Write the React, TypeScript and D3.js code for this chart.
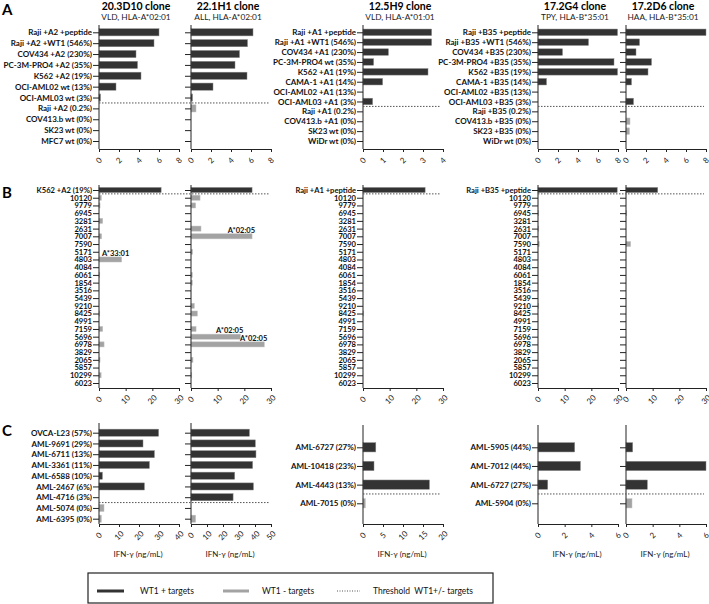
import * as d3 from "d3";
import React, { useEffect, useRef } from "react";

// ---- data ----
const clones = ["20.3D10 clone", "22.1H1 clone", "12.5H9 clone", "17.2G4 clone", "17.2D6 clone"];
const cloneInfo = ["VLD, HLA-A*02:01", "ALL, HLA-A*02:01", "VLD, HLA-A*01:01", "TPY, HLA-B*35:01", "HAA, HLA-B*35:01"];

const aTargetsA2 = ["Raji +A2 +peptide", "Raji +A2 +WT1 (546%)", "COV434 +A2 (230%)", "PC-3M-PRO4 +A2 (35%)", "K562 +A2 (19%)", "OCI-AML02 wt (13%)", "OCI-AML03 wt (3%)", "Raji +A2 (0.2%)", "COV413.b wt (0%)", "SK23 wt (0%)", "MFC7 wt (0%)"];
const aTargetsA1 = ["Raji +A1 +peptide", "Raji +A1 +WT1 (546%)", "COV434 +A1 (230%)", "PC-3M-PRO4 wt (35%)", "K562 +A1 (19%)", "CAMA-1 +A1 (14%)", "OCI-AML02 +A1 (13%)", "OCI-AML03 +A1 (3%)", "Raji +A1 (0.2%)", "COV413.b +A1 (0%)", "SK23 wt (0%)", "WiDr wt (0%)"];
const aTargetsB35 = ["Raji +B35 +peptide", "Raji +B35 +WT1 (546%)", "COV434 +B35 (230%)", "PC-3M-PRO4 +B35 (35%)", "K562 +B35 (19%)", "CAMA-1 +B35 (14%)", "OCI-AML02 +B35 (13%)", "OCI-AML03 +B35 (3%)", "Raji +B35 (0.2%)", "COV413.b +B35 (0%)", "SK23 +B35 (0%)", "WiDr wt (0%)"];

const a20_3D10 = [6.0, 5.5, 3.7, 3.85, 4.2, 1.7, 0.15, 0, 0, 0, 0];
const a22_1H1 = [6.2, 5.65, 4.85, 4.4, 5.6, 2.2, 0.15, 0.5, 0, 0, 0];
const a12_5H9 = [3.43, 3.43, 1.27, 0.53, 3.25, 0.98, 0, 0.48, 0, 0, 0, 0];
const a17_2G4 = [7.95, 5.05, 2.45, 7.6, 7.95, 0.85, 0, 0, 0, 0, 0, 0];
const a17_2D6 = [8.0, 1.35, 1.0, 2.55, 2.2, 0.55, 0, 0.75, 0, 0.4, 0.35, 0];

const donors = ["10120", "9779", "6945", "3281", "2631", "7007", "7590", "5171", "4803", "4084", "6061", "1854", "3516", "5439", "9210", "8425", "4991", "7159", "5696", "6978", "3829", "2065", "5857", "10299", "6023"];
const bTargetsA2 = ["K562 +A2 (19%)", ...donors];
const bTargetsA1 = ["Raji +A1 +peptide", ...donors];
const bTargetsB35 = ["Raji +B35 +peptide", ...donors];

const b20_3D10 = [23.3, 0.9, 0.4, 0, 1.4, 0, 1.0, 0, 0, 8.5, 0, 0.3, 0, 0, 0, 0, 0.3, 0, 1.4, 0, 1.9, 0, 0.4, 0, 0.8, 0];
const b22_1H1 = [22.9, 3.4, 1.75, 0, 0, 3.75, 22.9, 0, 0.6, 0, 0, 0.5, 0.5, 0, 0, 1.25, 2.4, 0, 1.9, 18.5, 27.5, 0, 0.75, 0, 0.3, 0];
const b12_5H9 = [23.3, 0, 0, 0, 0, 0, 0, 0, 0, 0, 0, 0, 0, 0, 0, 0, 0.3, 0, 0, 0, 0, 0, 0, 0, 0, 0];
const b17_2G4 = [29.7, 0, 0, 0.3, 0, 0.3, 0, 0.5, 0, 0, 0, 0, 0, 0, 0, 0.3, 0, 0, 0, 0, 0, 0, 0, 0, 0, 0];
const b17_2D6 = [11.9, 0, 0, 0.3, 0, 0, 0, 1.75, 0, 0, 0, 0, 0, 0, 0, 0, 0, 0, 0, 0, 0, 0, 0, 0, 0, 0];

const bNotes20_3D10 = [{ row: "4803", text: "A*33:01" }];
const bNotes22_1H1 = [
  { row: "7007", text: "A*02:05" },
  { row: "5696", text: "A*02:05" },
  { row: "6978", text: "A*02:05" },
];

const cTargetsA2 = ["OVCA-L23 (57%)", "AML-9691 (29%)", "AML-6711 (13%)", "AML-3361 (11%)", "AML-6588 (10%)", "AML-2467 (6%)", "AML-4716 (3%)", "AML-5074 (0%)", "AML-6395 (0%)"];
const cTargetsA1 = ["AML-6727 (27%)", "AML-10418 (23%)", "AML-4443 (13%)", "AML-7015 (0%)"];
const cTargetsB35 = ["AML-5905 (44%)", "AML-7012 (44%)", "AML-6727 (27%)", "AML-5904 (0%)"];

const c20_3D10 = [29.8, 22, 27.7, 25.2, 1.7, 22.7, 0, 2.5, 1.2];
const c22_1H1 = [36.5, 40.2, 40.6, 38.5, 27.3, 39, 26.3, 0, 2.9];
const c12_5H9 = [3.2, 2.75, 16.6, 0.6];
const c17_2G4 = [2.75, 3.18, 0.73, 0];
const c17_2D6 = [0.5, 6.0, 1.6, 0.45];

const ticks8 = [0, 2, 4, 6, 8];
const ticks4 = [0, 1, 2, 3, 4];
const ticks30 = [0, 10, 20, 30];
const ticks40 = [0, 10, 20, 30, 40];
const ticks50 = [0, 10, 20, 30, 40, 50];
const ticks20 = [0, 5, 10, 15, 20];
const ticks6 = [0, 2, 4, 6];

// ---- layout ----
const W = 709;
const H = 604;
const colX: [number, number][] = [[99, 179], [191, 271], [363, 443], [538, 618], [626, 706]];
const DARK = "#333333";
const GREY = "#a3a3a3";
const FONT = "'Liberation Sans Narrow', 'Arial Narrow', Lato, sans-serif";
const FONT2 = "Lato, 'Open Sans', sans-serif";

type Note = { row: string; text: string };
type Col = { ci: number; max: number; ticks: number[]; values: number[]; notes?: Note[] };
type Group = { labels: string[]; rows: [number, number]; top: number; bottom: number; threshold: number; cols: Col[] };

const groups: Group[] = [
  { labels: aTargetsA2, rows: [32.3, 141], top: 25, bottom: 149, threshold: 7, cols: [
    { ci: 0, max: 8, ticks: ticks8, values: a20_3D10 },
    { ci: 1, max: 8, ticks: ticks8, values: a22_1H1 },
  ] },
  { labels: aTargetsA1, rows: [32.3, 141], top: 25, bottom: 149, threshold: 8, cols: [
    { ci: 2, max: 4, ticks: ticks4, values: a12_5H9 },
  ] },
  { labels: aTargetsB35, rows: [32.3, 141], top: 25, bottom: 149, threshold: 8, cols: [
    { ci: 3, max: 8, ticks: ticks8, values: a17_2G4 },
    { ci: 4, max: 8, ticks: ticks8, values: a17_2D6 },
  ] },
  { labels: bTargetsA2, rows: [190, 383], top: 185, bottom: 388, threshold: 1, cols: [
    { ci: 0, max: 30, ticks: ticks30, values: b20_3D10, notes: bNotes20_3D10 },
    { ci: 1, max: 30, ticks: ticks30, values: b22_1H1, notes: bNotes22_1H1 },
  ] },
  { labels: bTargetsA1, rows: [190, 383], top: 185, bottom: 388, threshold: 1, cols: [
    { ci: 2, max: 30, ticks: ticks30, values: b12_5H9 },
  ] },
  { labels: bTargetsB35, rows: [190, 383], top: 185, bottom: 388, threshold: 1, cols: [
    { ci: 3, max: 30, ticks: ticks30, values: b17_2G4 },
    { ci: 4, max: 30, ticks: ticks30, values: b17_2D6 },
  ] },
  { labels: cTargetsA2, rows: [432.7, 518.7], top: 423, bottom: 524, threshold: 7, cols: [
    { ci: 0, max: 40, ticks: ticks40, values: c20_3D10 },
    { ci: 1, max: 50, ticks: ticks50, values: c22_1H1 },
  ] },
  { labels: cTargetsA1, rows: [447.3, 503.3], top: 425, bottom: 524, threshold: 3, cols: [
    { ci: 2, max: 20, ticks: ticks20, values: c12_5H9 },
  ] },
  { labels: cTargetsB35, rows: [447.3, 503.3], top: 425, bottom: 524, threshold: 3, cols: [
    { ci: 3, max: 6, ticks: ticks6, values: c17_2G4 },
    { ci: 4, max: 6, ticks: ticks6, values: c17_2D6 },
  ] },
];

function drawGroup(root: d3.Selection<SVGGElement, unknown, null, undefined>, grp: Group) {
  const y = d3.scalePoint<string>().domain(grp.labels).range(grp.rows);
  const bh = Math.min(y.step() * 0.66, 9.3);
  const labelSize = y.step() < 9 ? 7.6 : 8;

  grp.cols.forEach((c, k) => {
    const x = d3.scaleLinear().domain([0, c.max]).range(colX[c.ci]);
    const g = root.append("g");
    const rows = c.values.map((v, i) => ({ v, label: grp.labels[i], pos: i < grp.threshold }));

    g.selectAll("rect")
      .data(rows.filter((d) => d.v > 0))
      .join("rect")
      .attr("x", x(0))
      .attr("y", (d) => (y(d.label) as number) - bh / 2)
      .attr("width", (d) => x(Math.min(d.v, c.max)) - x(0))
      .attr("height", bh)
      .attr("fill", (d) => (d.pos ? DARK : GREY))
      .attr("stroke", (d) => (d.pos ? "#8a8a8a" : "#c4c4c4"))
      .attr("stroke-width", 0.5);

    // y axis
    const ya = g
      .append("g")
      .attr("transform", `translate(${x(0)},0)`)
      .call(
        d3
          .axisLeft(y)
          .tickSize(6)
          .tickPadding(1)
          .tickFormat((d) => (k === 0 ? d : ""))
      );
    ya.select(".domain").remove();
    ya.selectAll("line").attr("stroke", "#222");
    ya.selectAll("text")
      .attr("font-family", FONT)
      .attr("font-weight", "bold")
      .attr("font-size", labelSize)
      .attr("fill", "#111");
    g.append("line")
      .attr("x1", x(0))
      .attr("x2", x(0))
      .attr("y1", grp.top)
      .attr("y2", grp.bottom)
      .attr("stroke", "#222");

    // x axis
    const xa = g
      .append("g")
      .attr("transform", `translate(0,${grp.bottom})`)
      .call(
        d3
          .axisBottom(x)
          .tickValues(c.ticks)
          .tickFormat((d) => String(d))
          .tickSize(3)
          .tickSizeOuter(0)
      );
    xa.select(".domain").attr("stroke", "#222");
    xa.selectAll("line").attr("stroke", "#222");
    xa.selectAll("text")
      .attr("y", 0)
      .attr("dy", null)
      .attr("text-anchor", "middle")
      .attr("dominant-baseline", "middle")
      .attr("transform", "translate(0,12) rotate(-45)")
      .attr("font-family", FONT2)
      .attr("font-size", 8)
      .attr("fill", "#222");

    // annotations (HLA types)
    (c.notes || []).forEach((n) => {
      const i = grp.labels.indexOf(n.row);
      const end = x(c.values[i]) + 3;
      const tw = 26;
      const left = end - tw < x(0) + 2;
      g.append("text")
        .attr("x", left ? x(0) + 3 : end)
        .attr("y", (y(n.row) as number) - bh / 2 - 0.8)
        .attr("text-anchor", left ? "start" : "end")
        .attr("font-family", FONT)
        .attr("font-weight", "bold")
        .attr("font-size", 7.5)
        .attr("fill", "#111")
        .text(n.text);
    });
  });

  // threshold WT1+/- line
  const t = grp.threshold;
  const ty = ((y(grp.labels[t - 1]) as number) + (y(grp.labels[t]) as number)) / 2;
  const first = colX[grp.cols[0].ci];
  const last = colX[grp.cols[grp.cols.length - 1].ci];
  root
    .append("line")
    .attr("x1", first[0])
    .attr("x2", last[1] - 2)
    .attr("y1", ty)
    .attr("y2", ty)
    .attr("stroke", "#555")
    .attr("stroke-width", 1)
    .attr("stroke-dasharray", "1.5,1.5");
}

const App = () => {
  const svgRef = useRef<SVGSVGElement | null>(null);

  useEffect(() => {
    const svg = d3.select(svgRef.current);
    svg.selectAll("*").remove();
    const root = svg.append("g");

    root.append("rect").attr("width", W).attr("height", H).attr("fill", "#fff");

    // panel letters
    [
      ["A", 15],
      ["B", 198],
      ["C", 436],
    ].forEach(([l, yy]) => {
      root
        .append("text")
        .attr("x", 2)
        .attr("y", yy as number)
        .attr("font-family", FONT2)
        .attr("font-weight", "bold")
        .attr("font-size", 15)
        .text(l as string);
    });

    // clone titles
    clones.forEach((name, i) => {
      const cx = (colX[i][0] + colX[i][1]) / 2 - 3;
      root
        .append("text")
        .attr("x", cx)
        .attr("y", 10)
        .attr("text-anchor", "middle")
        .attr("font-family", FONT2)
        .attr("font-weight", "bold")
        .attr("font-size", 10.5)
        .text(name);
      root
        .append("text")
        .attr("x", cx)
        .attr("y", 19.5)
        .attr("text-anchor", "middle")
        .attr("font-family", FONT2)
        .attr("font-size", 8.3)
        .attr("fill", "#222")
        .text(cloneInfo[i]);
    });

    groups.forEach((grp) => drawGroup(root, grp));

    // x-axis titles under panel C
    colX.forEach((cx) => {
      root
        .append("text")
        .attr("x", (cx[0] + cx[1]) / 2 - 1)
        .attr("y", 557)
        .attr("text-anchor", "middle")
        .attr("font-family", FONT2)
        .attr("font-size", 8)
        .attr("fill", "#222")
        .text("IFN-γ (ng/mL)");
    });

    // legend
    const lg = root.append("g");
    lg.append("rect")
      .attr("x", 88)
      .attr("y", 573)
      .attr("width", 405)
      .attr("height", 30)
      .attr("fill", "none")
      .attr("stroke", "#222")
      .attr("stroke-width", 1.2);
    const ly = 591;
    lg.append("line").attr("x1", 97).attr("x2", 124).attr("y1", ly).attr("y2", ly).attr("stroke", DARK).attr("stroke-width", 3);
    lg.append("line").attr("x1", 223).attr("x2", 249).attr("y1", ly).attr("y2", ly).attr("stroke", GREY).attr("stroke-width", 3);
    lg.append("line")
      .attr("x1", 337)
      .attr("x2", 360)
      .attr("y1", ly)
      .attr("y2", ly)
      .attr("stroke", "#555")
      .attr("stroke-dasharray", "1,1.5");
    [
      ["WT1 + targets", 140],
      ["WT1 - targets", 262],
      ["Threshold  WT1+/- targets", 373],
    ].forEach(([txt, xx]) => {
      lg.append("text")
        .attr("x", xx as number)
        .attr("y", ly + 3)
        .attr("font-family", FONT2)
        .attr("font-size", 8.5)
        .attr("fill", "#111")
        .style("white-space", "pre")
        .text(txt as string);
    });
  }, []);

  return (
    <svg
      ref={svgRef}
      width={W}
      height={H}
      style={{ position: "absolute", left: 0, top: 0, display: "block" }}
    ></svg>
  );
};

export default App;
